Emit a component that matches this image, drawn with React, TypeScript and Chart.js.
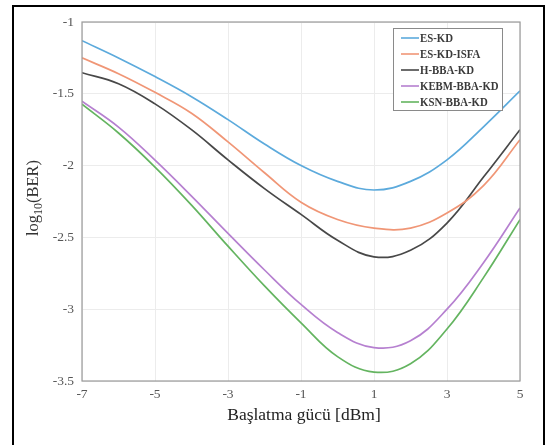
import React, { useEffect, useRef } from "react";
import { Chart, registerables } from "chart.js";

Chart.register(...registerables);

const xValues = [-7, -6, -5, -4, -3, -2, -1, 0, 1, 2, 3, 4, 5];
const esKd = [-1.13, -1.25, -1.38, -1.52, -1.68, -1.85, -2.0, -2.11, -2.17, -2.11, -1.96, -1.73, -1.48];
const esKdIsfa = [-1.25, -1.36, -1.49, -1.635, -1.835, -2.05, -2.255, -2.375, -2.435, -2.435, -2.33, -2.14, -1.82];
const hBbaKd = [-1.353, -1.43, -1.57, -1.75, -1.96, -2.16, -2.34, -2.52, -2.635, -2.59, -2.4, -2.08, -1.75];
const kebmBbaKd = [-1.552, -1.732, -1.962, -2.212, -2.472, -2.727, -2.967, -3.162, -3.267, -3.22, -3.0, -2.676, -2.295];
const ksnBbaKd = [-1.573, -1.773, -2.01, -2.275, -2.561, -2.838, -3.095, -3.33, -3.438, -3.38, -3.138, -2.78, -2.376];

const seriesNames = ["ES-KD", "ES-KD-ISFA", "H-BBA-KD", "KEBM-BBA-KD", "KSN-BBA-KD"];
const seriesColors = ["rgb(92,170,220)", "rgb(240,150,118)", "rgb(72,72,72)", "rgb(182,128,208)", "rgb(100,180,96)"];
const seriesValues = [esKd, esKdIsfa, hBbaKd, kebmBbaKd, ksnBbaKd];

const xTicks = [-7, -5, -3, -1, 1, 3, 5];
const yTicks = [-1, -1.5, -2, -2.5, -3, -3.5];

const xTitle = "Başlatma gücü [dBm]";
const FONT = "'Liberation Serif', 'DejaVu Serif', serif";

const decorPlugin = {
  id: "decor",
  afterDraw(chart: any) {
    const ctx = chart.ctx;
    const a = chart.chartArea;
    ctx.save();
    // axes box
    ctx.strokeStyle = "#9a9a9a";
    ctx.lineWidth = 1.2;
    ctx.strokeRect(a.left, a.top, a.right - a.left, a.bottom - a.top);

    // x title
    ctx.fillStyle = "#222";
    ctx.font = `17.5px ${FONT}`;
    ctx.textAlign = "center";
    ctx.textBaseline = "alphabetic";
    ctx.fillText(xTitle, 304, 420);

    // y title with subscript
    ctx.save();
    ctx.translate(38, 198);
    ctx.rotate(-Math.PI / 2);
    const big = `16.5px ${FONT}`;
    const small = `12px ${FONT}`;
    ctx.font = big;
    const w1 = ctx.measureText("log").width;
    const w3 = ctx.measureText("(BER)").width;
    ctx.font = small;
    const w2 = ctx.measureText("10").width;
    const total = w1 + w2 + w3;
    const x0 = -total / 2;
    ctx.textAlign = "left";
    ctx.fillStyle = "#333";
    ctx.font = big;
    ctx.fillText("log", x0, 0);
    ctx.font = small;
    ctx.fillText("10", x0 + w1, 4);
    ctx.font = big;
    ctx.fillText("(BER)", x0 + w1 + w2, 0);
    ctx.restore();

    // legend
    const lx = 393, ly = 28, lw = 109, lh = 82;
    ctx.fillStyle = "#fff";
    ctx.fillRect(lx, ly, lw, lh);
    ctx.strokeStyle = "#8a8a8a";
    ctx.lineWidth = 1;
    ctx.strokeRect(lx + 0.5, ly + 0.5, lw, lh);
    ctx.textAlign = "left";
    ctx.textBaseline = "middle";
    chart.data.datasets.forEach((ds: any, i: number) => {
      const y = ly + 10 + i * 16;
      ctx.strokeStyle = ds.borderColor;
      ctx.lineWidth = 1.6;
      ctx.beginPath();
      ctx.moveTo(lx + 8, y);
      ctx.lineTo(lx + 26, y);
      ctx.stroke();
      ctx.save();
      ctx.translate(lx + 27, y + 1);
      ctx.scale(0.8, 1);
      ctx.font = `bold 13.5px ${FONT}`;
      ctx.fillStyle = "#3a3a3a";
      ctx.fillText(ds.label, 0, 0);
      ctx.restore();
    });
    ctx.restore();
  },
};

export default function App() {
  const ref = useRef<HTMLCanvasElement | null>(null);
  useEffect(() => {
    if (!ref.current) return;
    const chart = new Chart(ref.current, {
      type: "line",
      data: {
        datasets: seriesNames.map((name, i) => ({
          label: name,
          data: xValues.map((x, j) => ({ x, y: seriesValues[i][j] })),
          borderColor: seriesColors[i],
          backgroundColor: seriesColors[i],
          borderWidth: 1.7,
          pointRadius: 0,
          tension: 0.4,
          fill: false,
        })),
      },
      options: {
        responsive: false,
        animation: false,
        layout: { padding: { left: 0, top: 22, right: 28, bottom: 0 } },
        plugins: { legend: { display: false }, tooltip: { enabled: false } },
        scales: {
          x: {
            type: "linear",
            min: -7,
            max: 5,
            afterBuildTicks: (s: any) => {
              s.ticks = xTicks.map((v) => ({ value: v }));
            },
            afterFit: (s: any) => {
              s.height = 64;
            },
            grid: { color: "#ececec", drawTicks: false, lineWidth: 1 },
            border: { display: false },
            ticks: {
              padding: 5,
              color: "#555",
              font: { family: FONT, size: 13.5 },
              callback: (v: any) => String(v),
            },
          },
          y: {
            type: "linear",
            min: -3.5,
            max: -1,
            afterBuildTicks: (s: any) => {
              s.ticks = yTicks.map((v) => ({ value: v }));
            },
            afterFit: (s: any) => {
              s.width = 82;
            },
            grid: { color: "#ececec", drawTicks: false, lineWidth: 1 },
            border: { display: false },
            ticks: {
              padding: 8,
              color: "#555",
              font: { family: FONT, size: 13.5 },
              callback: (v: any) => String(v),
            },
          },
        },
      },
      plugins: [decorPlugin],
    } as any);
    return () => chart.destroy();
  }, []);

  return (
    <div style={{ position: "fixed", left: 0, top: 0, width: 548, height: 445, background: "#fff", overflow: "hidden" }}>
      <canvas ref={ref} width={548} height={445} style={{ position: "absolute", left: 0, top: 0 }} />
      <div
        style={{
          position: "absolute",
          left: 12,
          top: 5,
          width: 529,
          height: 460,
          borderTop: "2px solid #000",
          borderLeft: "2px solid #000",
          borderRight: "2px solid #000",
          pointerEvents: "none",
        }}
      />
    </div>
  );
}
